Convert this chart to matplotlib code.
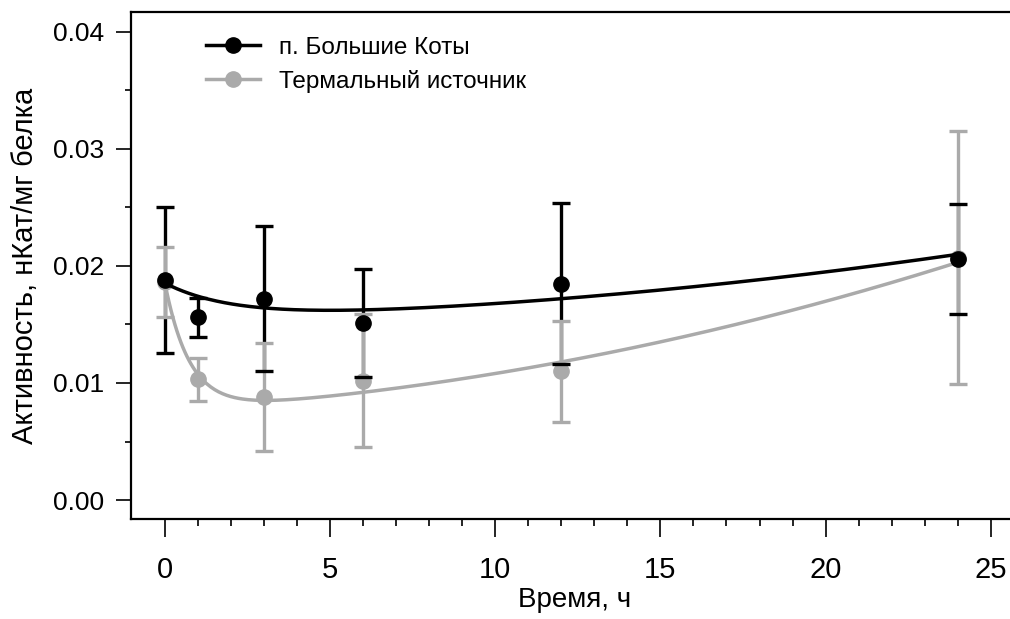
import numpy as np
import matplotlib
matplotlib.use('Agg')
import matplotlib.pyplot as plt
from matplotlib.lines import Line2D

plt.rcParams['font.family'] = ['Liberation Sans', 'DejaVu Sans']
narrow = ['Liberation Sans Narrow', 'Liberation Sans', 'DejaVu Sans']

# time points, h
hours = [0, 1, 3, 6, 12, 24]

# п. Большие Коты
kot_mean = [0.0188, 0.0156, 0.0172, 0.0151, 0.0185, 0.0206]
kot_err = [0.0062, 0.0017, 0.0062, 0.0046, 0.0069, 0.0047]

# Термальный источник
term_mean = [0.0186, 0.0103, 0.0088, 0.0102, 0.0110, 0.0207]
term_err = [0.0030, 0.0018, 0.0046, 0.0057, 0.0043, 0.0108]

# fitted trend: a + b*exp(-k*t) + c*t + d*t^2
kot_fit = [0.01553, 0.0030, 0.5, 0.00005, 7.4e-6]
term_fit = [0.0077, 0.0108, 1.33, 0.000158, 1.53e-5]

labels = ['п. Большие Коты', 'Термальный источник']
black = 'black'
grey = '#aaaaaa'


def trend(p, t):
    a, b, k, c, d = p
    return a + b * np.exp(-k * t) + c * t + d * t ** 2


fig = plt.figure(figsize=(10.10, 6.19), dpi=100)
ax = fig.add_axes([0.1297, 0.1616, 0.878, 0.8184])

# black error bars: vertical lines lowest, caps on top
eb = ax.errorbar(hours, kot_mean, yerr=kot_err, fmt='none', ecolor=black,
                 elinewidth=2.4, capsize=6.4, capthick=2.4, zorder=1)
for cap in eb[1]:
    cap.set_zorder(4)

ax.errorbar(hours, term_mean, yerr=term_err, fmt='none', ecolor=grey,
            elinewidth=2.4, capsize=6.4, capthick=2.4, zorder=2)

t = np.linspace(0, 24, 400)
ax.plot(t, trend(term_fit, t), color=grey, lw=2.5, zorder=3)
ax.plot(hours, term_mean, 'o', color=grey, ms=11, zorder=3)
ax.plot(t, trend(kot_fit, t), color=black, lw=2.5, zorder=4)
ax.plot(hours, kot_mean, 'o', color=black, ms=11, zorder=5)

ax.set_xlim(-1.03, 25.82)
ax.set_ylim(-0.00162, 0.04167)
ax.set_xticks([0, 5, 10, 15, 20, 25])
ax.set_xticks(np.arange(0, 26, 1), minor=True)
ax.set_yticks([0.0, 0.01, 0.02, 0.03, 0.04])
ax.set_yticks(np.arange(0, 0.0401, 0.005), minor=True)
ax.set_yticklabels(['0.00', '0.01', '0.02', '0.03', '0.04'])

for s in ax.spines.values():
    s.set_linewidth(1.6)
ax.tick_params(axis='both', which='both', direction='out', width=1.2)
ax.tick_params(axis='x', which='major', length=13, pad=14)
ax.tick_params(axis='x', which='minor', length=5)
ax.tick_params(axis='y', which='major', length=11, pad=8, labelsize=19)
ax.tick_params(axis='y', which='minor', length=4)
for lab in ax.get_xticklabels():
    lab.set_family(narrow)
    lab.set_fontsize(21)

ax.set_xlabel('Время, ч', family=narrow, fontsize=20, labelpad=2)
ax.set_ylabel('Активность, нКат/мг белка', fontsize=21, labelpad=10)

handles = [Line2D([], [], color=black, lw=2.5, marker='o', ms=11),
           Line2D([], [], color=grey, lw=2.5, marker='o', ms=11)]
ax.legend(handles, labels, loc='upper left', bbox_to_anchor=(0.071, 0.976),
          frameon=False, fontsize=17.5, handlelength=2.2, handletextpad=0.8,
          labelspacing=0.45, borderpad=0)

fig.savefig('out.png', dpi=100)
